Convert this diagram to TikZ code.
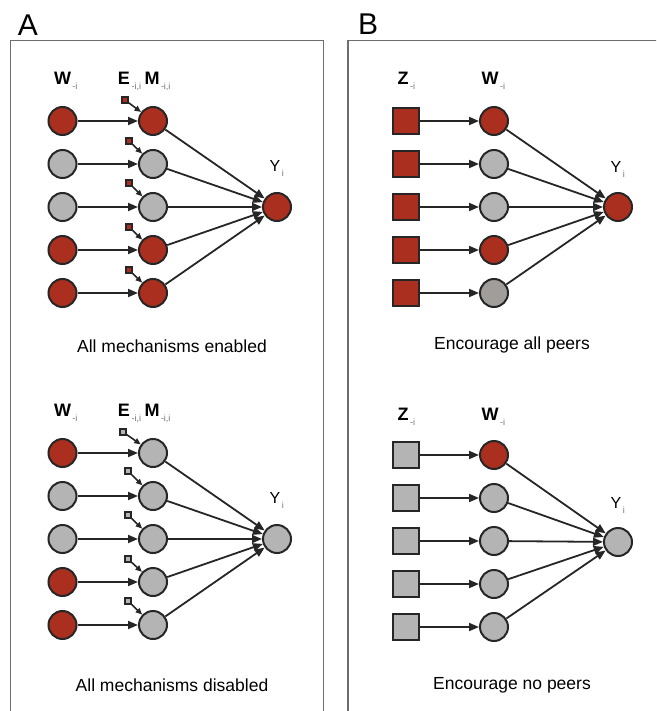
\documentclass[tikz,border=0pt]{standalone}
\usepackage{fontspec}
\setmainfont{Liberation Sans}
\usetikzlibrary{arrows.meta}

\definecolor{mechred}{HTML}{AB2F1E}
\definecolor{mechgray}{HTML}{B4B4B4}
\definecolor{deepgray}{HTML}{A19D9B}
\definecolor{edgegray}{HTML}{262626}
\definecolor{boxgray}{HTML}{6E6E6E}
\newcommand{\idx}[1]{\rlap{\raisebox{-5pt}{\fontsize{9}{9}\selectfont\mdseries\color{boxgray}\,#1}}}

\begin{document}
\begin{tikzpicture}[x = 1pt, y = -1pt,
    unit/.style = {circle, draw = edgegray, line width = 2pt, minimum size = 28pt, inner sep = 0pt},
    instr/.style = {rectangle, draw = edgegray, line width = 2pt, minimum size = 25.5pt, inner sep = 0pt},
    encour/.style = {rectangle, draw = edgegray, line width = 1.6pt, minimum size = 6pt, inner sep = 0pt},
    link/.style = {draw = edgegray, line width = 1.8pt, -{Triangle[length = 10pt, width = 8pt]}},
    nudge/.style = {draw = edgegray, line width = 1.6pt, -{Triangle[length = 6.5pt, width = 5.5pt]}},
    varlabel/.style = {font = \fontsize{18}{18}\selectfont\bfseries, inner sep = 0pt},
    outlabel/.style = {font = \fontsize{16}{16}\selectfont, inner sep = 0pt},
    caption/.style = {font = \fontsize{17.5}{17.5}\selectfont},
    panel/.style = {draw = boxgray, line width = 1.5pt}]

  \useasboundingbox (0, 0) rectangle (656, 711);
  \begin{scope}
    \clip (0, 0) rectangle (656, 711);
    \draw [panel] (10.5, 40.5) rectangle (323.5, 730);
    \draw [panel] (348, 40.5) rectangle (680, 730);
  \end{scope}
  \node [font = \fontsize{30}{30}\selectfont] (panA) at (28, 25) {A};
  \node [font = \fontsize{30}{30}\selectfont] (panB) at (368, 24) {B};

  % A: all mechanisms enabled
  \node [varlabel] (wlabA) at (62.5, 81) {W\idx{-i}};
  \node [varlabel] (elabA) at (124, 81) {E\idx{-i,i}};
  \node [varlabel] (mlabA) at (152, 81) {M\idx{-i,i}};
  \node [outlabel] (ylabA) at (275, 168) {Y\idx{i}};
  \node [unit, fill = mechred] (yA) at (277, 207) {};
  \foreach \k/\wc/\mc/\dx/\dy in {1/mechred/mechred/-28/-21, 2/mechgray/mechgray/-24/-23,
      3/mechgray/mechgray/-24/-24, 4/mechred/mechred/-24/-23, 5/mechred/mechred/-24/-23} {
    \node [unit, fill = \wc] (wA\k) at (62.5, 78 + 43*\k) {};
    \node [unit, fill = \mc] (mA\k) at (153, 78 + 43*\k) {};
    \node [encour, fill = mechred] (eA\k) at (153 + \dx, 78 + 43*\k + \dy) {};
    \draw [link] (wA\k) -- (mA\k);
    \draw [nudge] (eA\k) -- (mA\k);
    \draw [link] (mA\k) -- (yA);
  }
  \node [caption] (capA) at (172, 346) {All mechanisms enabled};

  % A: all mechanisms disabled
  \node [varlabel] (wlabC) at (62.5, 413) {W\idx{-i}};
  \node [varlabel] (elabC) at (124, 413) {E\idx{-i,i}};
  \node [varlabel] (mlabC) at (152, 413) {M\idx{-i,i}};
  \node [outlabel] (ylabC) at (275, 500) {Y\idx{i}};
  \node [unit, fill = mechgray] (yC) at (277, 539) {};
  \foreach \k/\wc/\dx/\dy in {1/mechred/-30/-21, 2/mechgray/-25/-25,
      3/mechgray/-25/-24, 4/mechred/-25/-23, 5/mechred/-25/-24} {
    \node [unit, fill = \wc] (wC\k) at (62.5, 410 + 43*\k) {};
    \node [unit, fill = mechgray] (mC\k) at (153, 410 + 43*\k) {};
    \node [encour, fill = mechgray] (eC\k) at (153 + \dx, 410 + 43*\k + \dy) {};
    \draw [link] (wC\k) -- (mC\k);
    \draw [nudge] (eC\k) -- (mC\k);
    \draw [link] (mC\k) -- (yC);
  }
  \node [caption] (capC) at (172, 685) {All mechanisms disabled};

  % B: encourage all peers
  \node [varlabel] (zlabB) at (403, 81) {Z\idx{-i}};
  \node [varlabel] (wlabB) at (490, 81) {W\idx{-i}};
  \node [outlabel] (ylabB) at (616, 169) {Y\idx{i}};
  \node [unit, fill = mechred] (yB) at (618, 207) {};
  \foreach \k/\wc in {1/mechred, 2/mechgray, 3/mechgray, 4/mechred, 5/deepgray} {
    \node [instr, fill = mechred] (zB\k) at (406, 78 + 43*\k) {};
    \node [unit, fill = \wc] (wB\k) at (494, 78 + 43*\k) {};
    \draw [link] (zB\k) -- (wB\k);
    \draw [link] (wB\k) -- (yB);
  }
  \node [caption] (capB) at (512, 345) {Encourage all peers};

  % B: encourage no peers
  \node [varlabel] (zlabD) at (403, 417) {Z\idx{-i}};
  \node [varlabel] (wlabD) at (490, 417) {W\idx{-i}};
  \node [outlabel] (ylabD) at (616, 505) {Y\idx{i}};
  \node [unit, fill = mechgray] (yD) at (618, 542) {};
  \foreach \k/\wc in {1/mechred, 2/mechgray, 3/mechgray, 4/mechgray, 5/mechgray} {
    \node [instr, fill = mechgray] (zD\k) at (406, 412 + 43*\k) {};
    \node [unit, fill = \wc] (wD\k) at (494, 412 + 43*\k) {};
    \draw [link] (zD\k) -- (wD\k);
    \draw [link] (wD\k) -- (yD);
  }
  \node [caption] (capD) at (512, 685) {Encourage no peers};
\end{tikzpicture}
\end{document}
